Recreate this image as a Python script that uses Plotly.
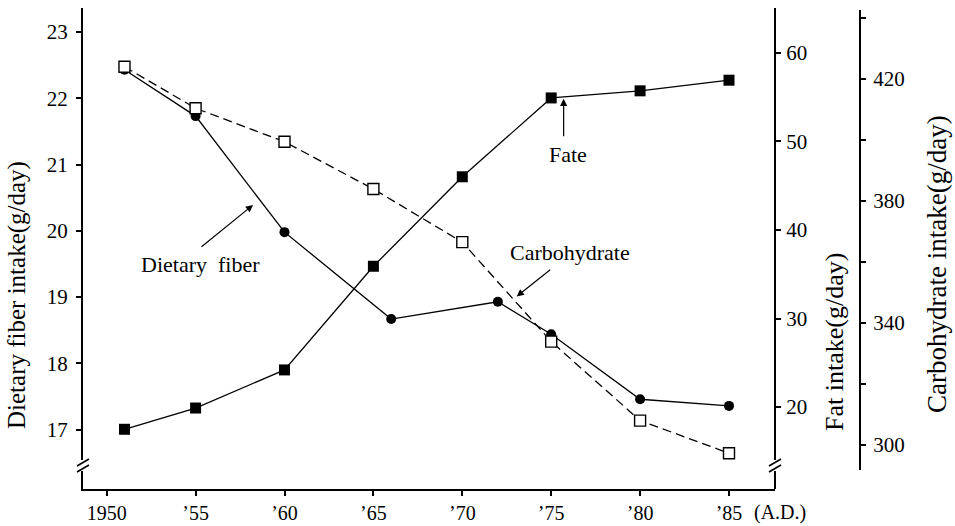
import plotly.graph_objects as go

# ---------------- data ----------------
fiber_years = [1951, 1955, 1960, 1966, 1972, 1975, 1980, 1985]
fiber_vals = [22.43, 21.73, 19.98, 18.67, 18.93, 18.44, 17.46, 17.36]

fat_years = [1951, 1955, 1960, 1965, 1970, 1975, 1980, 1985]
fat_vals = [17.5, 19.9, 24.2, 35.9, 46.0, 54.9, 55.7, 56.9]

carb_years = [1951, 1955, 1960, 1965, 1970, 1975, 1980, 1985]
carb_vals = [424.0, 410.4, 399.4, 383.9, 366.5, 333.9, 308.0, 297.3]

x_tickvals = [1950, 1955, 1960, 1965, 1970, 1975, 1980, 1985]
x_ticktext = ["1950", "’55", "’60", "’65", "’70", "’75", "’80", "’85"]

FONT = "Liberation Serif"
W, H = 955, 526
ML, MR, MT, MB = 83, 40, 8, 37
PW, PH = W - ML - MR, H - MT - MB


def px(xp):
    return (xp - ML) / PW


def py(yp):
    return (H - MB - yp) / PH


x_end = px(775)

fig = go.Figure()

fig.add_trace(go.Scatter(
    x=fat_years, y=fat_vals, yaxis="y2", mode="lines+markers",
    line=dict(color="black", width=1.3),
    marker=dict(symbol="square", size=11, color="black"),
    name="Fat", showlegend=False))

fig.add_trace(go.Scatter(
    x=fiber_years, y=fiber_vals, yaxis="y", mode="lines+markers",
    line=dict(color="black", width=1.3),
    marker=dict(symbol="circle", size=10, color="black"),
    name="Dietary fiber", showlegend=False))

fig.add_trace(go.Scatter(
    x=carb_years, y=carb_vals, yaxis="y3", mode="lines+markers",
    line=dict(color="black", width=1.3, dash="9px,5px"),
    marker=dict(symbol="square", size=11, color="white",
                line=dict(color="black", width=1.4)),
    name="Carbohydrate", showlegend=False))

tickfont = dict(family=FONT, size=21, color="black")
xtickfont = dict(family=FONT, size=20, color="black")
common = dict(ticks="outside", ticklen=5, tickwidth=1.5, tickcolor="black",
              showline=True, linecolor="black", linewidth=2,
              showgrid=False, zeroline=False, tickfont=tickfont,
              automargin=False)

fig.update_layout(
    template="none",
    width=W, height=H,
    margin=dict(l=ML, r=MR, t=MT, b=MB, autoexpand=False),
    paper_bgcolor="white", plot_bgcolor="rgba(0,0,0,0)",
    font=dict(family=FONT, color="black"),
    showlegend=False,
    xaxis=dict(
        domain=[0, x_end], range=[1948.667, 1987.587],
        tickvals=x_tickvals, ticktext=x_ticktext,
        ticklabelstandoff=0, anchor="y",
        **{**common, "tickfont": xtickfont}),
    yaxis=dict(
        range=[16.107, 23.36], tickvals=[17, 18, 19, 20, 21, 22, 23],
        ticklabelstandoff=4, anchor="x", **common),
    yaxis2=dict(
        overlaying="y", side="right", anchor="free", position=x_end,
        range=[10.76, 65.05], tickvals=[20, 30, 40, 50, 60],
        ticklabelstandoff=1, **common),
    yaxis3=dict(
        side="right", anchor="free", position=px(860),
        domain=[py(470), py(10)],
        range=[291.8, 442.6], tick0=300, dtick=40,
        minor=dict(dtick=20, ticklen=5, tickwidth=1.5, tickcolor="black",
                   ticks="outside"),
        ticklabelstandoff=3, **common),
)

# axis break marks (left axis and fat axis)
shapes = []
for xa in (83, 775):
    shapes.append(dict(type="rect", xref="paper", yref="paper",
                       x0=px(xa - 3), x1=px(xa + 3), y0=py(471), y1=py(460),
                       fillcolor="white", line=dict(width=0), layer="above"))
    for dy in (0, 6):
        shapes.append(dict(type="line", xref="paper", yref="paper",
                           x0=px(xa - 6), y0=py(466 + dy), x1=px(xa + 6),
                           y1=py(459 + dy),
                           line=dict(color="black", width=1.6), layer="above"))
fig.update_layout(shapes=shapes)

lab = dict(family=FONT, size=22, color="black")
ann = []
# inline labels
ann.append(dict(x=1955.3, y=19.49, xref="x", yref="y", text="Dietary  fiber",
                showarrow=False, font=lab))
ann.append(dict(x=1958.23, y=20.39, xref="x", yref="y", text="", showarrow=True,
                ax=-53, ay=43, arrowhead=2, arrowsize=1.2, arrowwidth=1.2,
                arrowcolor="black", standoff=0))
ann.append(dict(x=1975.94, y=21.15, xref="x", yref="y", text="Fate",
                showarrow=False, font=lab))
ann.append(dict(x=1975.7, y=21.99, xref="x", yref="y", text="", showarrow=True,
                ax=0, ay=39, arrowhead=2, arrowsize=1.2, arrowwidth=1.2,
                arrowcolor="black", standoff=0))
ann.append(dict(x=1976.05, y=19.68, xref="x", yref="y", text="Carbohydrate",
                showarrow=False, font=lab))
ann.append(dict(x=1973.06, y=19.01, xref="x", yref="y", text="", showarrow=True,
                ax=35, ay=-28, arrowhead=2, arrowsize=1.2, arrowwidth=1.2,
                arrowcolor="black", standoff=0))
# (A.D.)
ann.append(dict(x=px(780), y=py(512), xref="paper", yref="paper", text="(A.D.)",
                showarrow=False, font=xtickfont, xanchor="center", yanchor="middle"))
# axis titles
ann.append(dict(x=px(17), y=py(295), xref="paper", yref="paper",
                text="Dietary fiber intake(g/day)", textangle=-90,
                showarrow=False, font=dict(family=FONT, size=25, color="black"),
                xanchor="center", yanchor="middle"))
ann.append(dict(x=px(835), y=py(342), xref="paper", yref="paper",
                text="Fat intake(g/day)", textangle=-90,
                showarrow=False, font=dict(family=FONT, size=26, color="black"),
                xanchor="center", yanchor="middle"))
ann.append(dict(x=px(937), y=py(264), xref="paper", yref="paper",
                text="Carbohydrate intake(g/day)", textangle=-90,
                showarrow=False, font=dict(family=FONT, size=27, color="black"),
                xanchor="center", yanchor="middle"))
fig.update_layout(annotations=ann)

fig.write_html("out.html")
